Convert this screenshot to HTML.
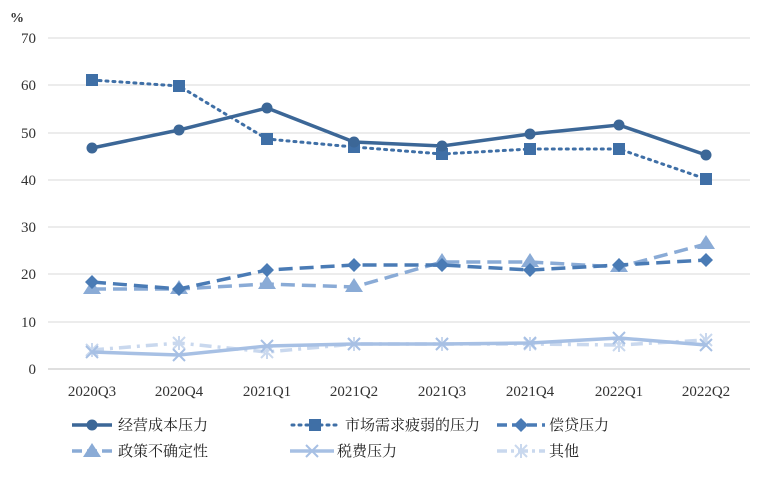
<!DOCTYPE html>
<html><head><meta charset="utf-8"><style>
body{margin:0;background:#fff;}
svg{display:block;font-family:"Liberation Serif","Noto Serif CJK SC",serif;}
</style></head><body>
<svg width="774" height="482" viewBox="0 0 774 482" xmlns="http://www.w3.org/2000/svg">
<g stroke="#d9d9d9" stroke-width="1">
<line x1="48" x2="750" y1="38" y2="38"/><line x1="48" x2="750" y1="85" y2="85"/>
<line x1="48" x2="750" y1="133" y2="133"/><line x1="48" x2="750" y1="180" y2="180"/>
<line x1="48" x2="750" y1="227" y2="227"/><line x1="48" x2="750" y1="274" y2="274"/>
<line x1="48" x2="750" y1="322" y2="322"/>
</g>
<line x1="48" x2="750" y1="369" y2="369" stroke="#bfbfbf"/>
<g font-size="15" fill="#333" text-anchor="end">
<text x="36" y="43">70</text><text x="36" y="90">60</text><text x="36" y="138">50</text>
<text x="36" y="185">40</text><text x="36" y="232">30</text><text x="36" y="279">20</text>
<text x="36" y="327">10</text><text x="36" y="374">0</text>
</g>
<text x="10" y="22" font-size="14" fill="#333" font-weight="bold">%</text>
<g font-size="15" fill="#333" text-anchor="middle">
<text x="92" y="396">2020Q3</text><text x="179" y="396">2020Q4</text><text x="267" y="396">2021Q1</text>
<text x="354" y="396">2021Q2</text><text x="442" y="396">2021Q3</text><text x="530" y="396">2021Q4</text>
<text x="619" y="396">2022Q1</text><text x="706" y="396">2022Q2</text>
</g>
<!-- 其他 -->
<polyline fill="none" stroke="#c9d8ee" stroke-width="3.5" stroke-dasharray="12,6,3,6" points="92,350 179,343 267,352 354,344 442,344 530,344 619,345 706,340"/>
<g stroke="#c9d8ee" stroke-width="2">
<path d="M86,344l12,12M98,344l-12,12M92,343v14M173,337l12,12M185,337l-12,12M179,336v14M261,346l12,12M273,346l-12,12M267,345v14M348,338l12,12M360,338l-12,12M354,337v14M436,338l12,12M448,338l-12,12M442,337v14M524,338l12,12M536,338l-12,12M530,337v14M613,339l12,12M625,339l-12,12M619,338v14M700,334l12,12M712,334l-12,12M706,333v14"/>
</g>
<!-- 税费 -->
<polyline fill="none" stroke="#a7c0e4" stroke-width="3.5" points="92,352 179,355 267,346 354,344 442,344 530,343 619,338 706,345"/>
<g stroke="#a7c0e4" stroke-width="2">
<path d="M86,346l12,12M98,346l-12,12M173,349l12,12M185,349l-12,12M261,340l12,12M273,340l-12,12M348,338l12,12M360,338l-12,12M436,338l12,12M448,338l-12,12M524,337l12,12M536,337l-12,12M613,332l12,12M625,332l-12,12M700,339l12,12M712,339l-12,12"/>
</g>
<!-- 政策 -->
<polyline fill="none" stroke="#8aabd6" stroke-width="3.5" stroke-dasharray="14,7" points="92,289 179,289 267,284 354,287 442,262 530,262 619,267 706,244"/>
<g fill="#8aabd6">
<path d="M92,280l9,14h-18zM179,280l9,14h-18zM267,275l9,14h-18zM354,278l9,14h-18zM442,253l9,14h-18zM530,253l9,14h-18zM619,258l9,14h-18zM706,235l9,14h-18z"/>
</g>
<!-- 偿贷 -->
<polyline fill="none" stroke="#4a7bb5" stroke-width="3.5" stroke-dasharray="14,7" points="92,282 179,289 267,270 354,265 442,265 530,270 619,265 706,260"/>
<g fill="#4a7bb5">
<path d="M92,275l7,7-7,7-7-7zM179,282l7,7-7,7-7-7zM267,263l7,7-7,7-7-7zM354,258l7,7-7,7-7-7zM442,258l7,7-7,7-7-7zM530,263l7,7-7,7-7-7zM619,258l7,7-7,7-7-7zM706,253l7,7-7,7-7-7z"/>
</g>
<!-- 市场 -->
<polyline fill="none" stroke="#3f6fa6" stroke-width="3" stroke-dasharray="2,5" stroke-linecap="round" points="92,80 179,86 267,139 354,147 442,154 530,149 619,149 706,179"/>
<g fill="#3f6fa6">
<rect x="86" y="74" width="12" height="12"/><rect x="173" y="80" width="12" height="12"/><rect x="261" y="133" width="12" height="12"/><rect x="348" y="141" width="12" height="12"/><rect x="436" y="148" width="12" height="12"/><rect x="524" y="143" width="12" height="12"/><rect x="613" y="143" width="12" height="12"/><rect x="700" y="173" width="12" height="12"/>
</g>
<!-- 经营 -->
<polyline fill="none" stroke="#3c6797" stroke-width="3.5" points="92,148 179,130 267,108 354,142 442,146 530,134 619,125 706,155"/>
<g fill="#3c6797">
<circle cx="92" cy="148" r="5.5"/><circle cx="179" cy="130" r="5.5"/><circle cx="267" cy="108" r="5.5"/><circle cx="354" cy="142" r="5.5"/><circle cx="442" cy="146" r="5.5"/><circle cx="530" cy="134" r="5.5"/><circle cx="619" cy="125" r="5.5"/><circle cx="706" cy="155" r="5.5"/>
</g>
<!-- legend -->
<g font-size="15" fill="#222">
<line x1="72" x2="112" y1="425" y2="425" stroke="#3c6797" stroke-width="3.5"/><circle cx="92" cy="425" r="5.5" fill="#3c6797"/>
<text x="118" y="430">经营成本压力</text>
<line x1="292" x2="338" y1="425" y2="425" stroke="#3f6fa6" stroke-width="3" stroke-dasharray="2,5" stroke-linecap="round"/><rect x="309" y="419" width="12" height="12" fill="#3f6fa6"/>
<text x="345" y="430">市场需求疲弱的压力</text>
<line x1="497" x2="545" y1="425" y2="425" stroke="#4a7bb5" stroke-width="3.5" stroke-dasharray="10,5"/><path d="M521,418l7,7-7,7-7-7z" fill="#4a7bb5"/>
<text x="549" y="430">偿贷压力</text>
<line x1="72" x2="112" y1="451" y2="451" stroke="#8aabd6" stroke-width="3.5" stroke-dasharray="10,5"/><path d="M92,443l9,14h-18z" fill="#8aabd6"/>
<text x="118" y="456">政策不确定性</text>
<line x1="290" x2="334" y1="451" y2="451" stroke="#a7c0e4" stroke-width="3.5"/><path d="M306,445l12,12M318,445l-12,12" stroke="#a7c0e4" stroke-width="2"/>
<text x="337" y="456">税费压力</text>
<line x1="497" x2="545" y1="451" y2="451" stroke="#c9d8ee" stroke-width="3.5" stroke-dasharray="10,4,3,4"/><path d="M515,445l12,12M527,445l-12,12M521,444v14" stroke="#c9d8ee" stroke-width="2"/>
<text x="549" y="456">其他</text>
</g>
</svg>
</body></html>
